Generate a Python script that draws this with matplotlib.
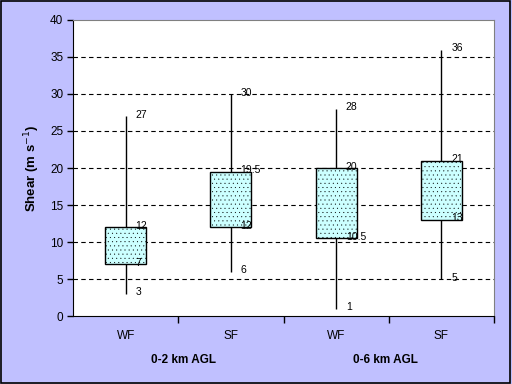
import matplotlib
matplotlib.use("Agg")
import matplotlib.pyplot as plt
from matplotlib.patches import Rectangle

categories = ["WF", "SF", "WF", "SF"]
groups = ["0-2 km AGL", "0-6 km AGL"]
mins = [3, 6, 1, 5]
q1 = [7, 12, 10.5, 13]
q3 = [12, 19.5, 20, 21]
maxs = [27, 30, 28, 36]
yticks = [0, 5, 10, 15, 20, 25, 30, 35, 40]

plt.rcParams['font.family'] = ['Liberation Sans', 'DejaVu Sans']
plt.rcParams['hatch.color'] = '#303030'
plt.rcParams['hatch.linewidth'] = 0.2

bg = '#C0C0FF'
fig = plt.figure(figsize=(5.12, 3.84), dpi=100, facecolor=bg)
fig.patches.append(Rectangle((0.002, 0.003), 0.994, 0.994, transform=fig.transFigure,
                             fill=False, edgecolor='black', linewidth=1.2))
ax = fig.add_axes([0.1426, 0.177, 0.8224, 0.771])
ax.set_facecolor('white')

x = list(range(len(categories)))
for i in x:
    ax.vlines(i, mins[i], maxs[i], color='black', linewidth=1, zorder=3)
ax.bar(x, [h - l for h, l in zip(q3, q1)], bottom=q1, width=0.39,
       color='#CCFFFF', edgecolor='black', linewidth=1, hatch='....', zorder=4)

for i in x:
    for v in (mins[i], q1[i], q3[i], maxs[i]):
        ax.annotate(f"{v:g}", (i, v), xytext=(7, 1), textcoords='offset points',
                    ha='left', va='center', fontsize=7.5, zorder=6)

ax.set_xlim(-0.5, len(categories) - 0.5)
ax.set_ylim(0, 40)
ax.set_yticks(yticks)
ax.set_yticklabels([str(t) for t in yticks], fontsize=8.5)
ax.tick_params(axis='y', direction='out', length=4, width=1, pad=3)
for t in yticks[1:-1]:
    ax.axhline(t, color='black', linewidth=0.8, linestyle=(0, (4, 3)), zorder=1)

ax.set_xticks([0.5, 1.5, 2.5, 3.5])
ax.set_xticklabels([])
ax.tick_params(axis='x', direction='out', length=5, width=1)
for i, c in enumerate(categories):
    ax.text(i, -2.7, c, ha='center', va='center', fontsize=8.5)
for g, name in enumerate(groups):
    ax.text(2 * g + 0.55 - 0.08 * g, -5.9, name, ha='center', va='center',
            fontsize=8.5, fontweight='bold')

ax.set_ylabel("Shear (m s$^{-1}$)", fontsize=9.5, fontweight='bold', labelpad=6)

ax.spines['left'].set_color('black')
ax.spines['bottom'].set_color('black')
ax.spines['top'].set_color('#808080')
ax.spines['right'].set_color('#808080')

fig.savefig("out.png", dpi=100, facecolor=bg)
